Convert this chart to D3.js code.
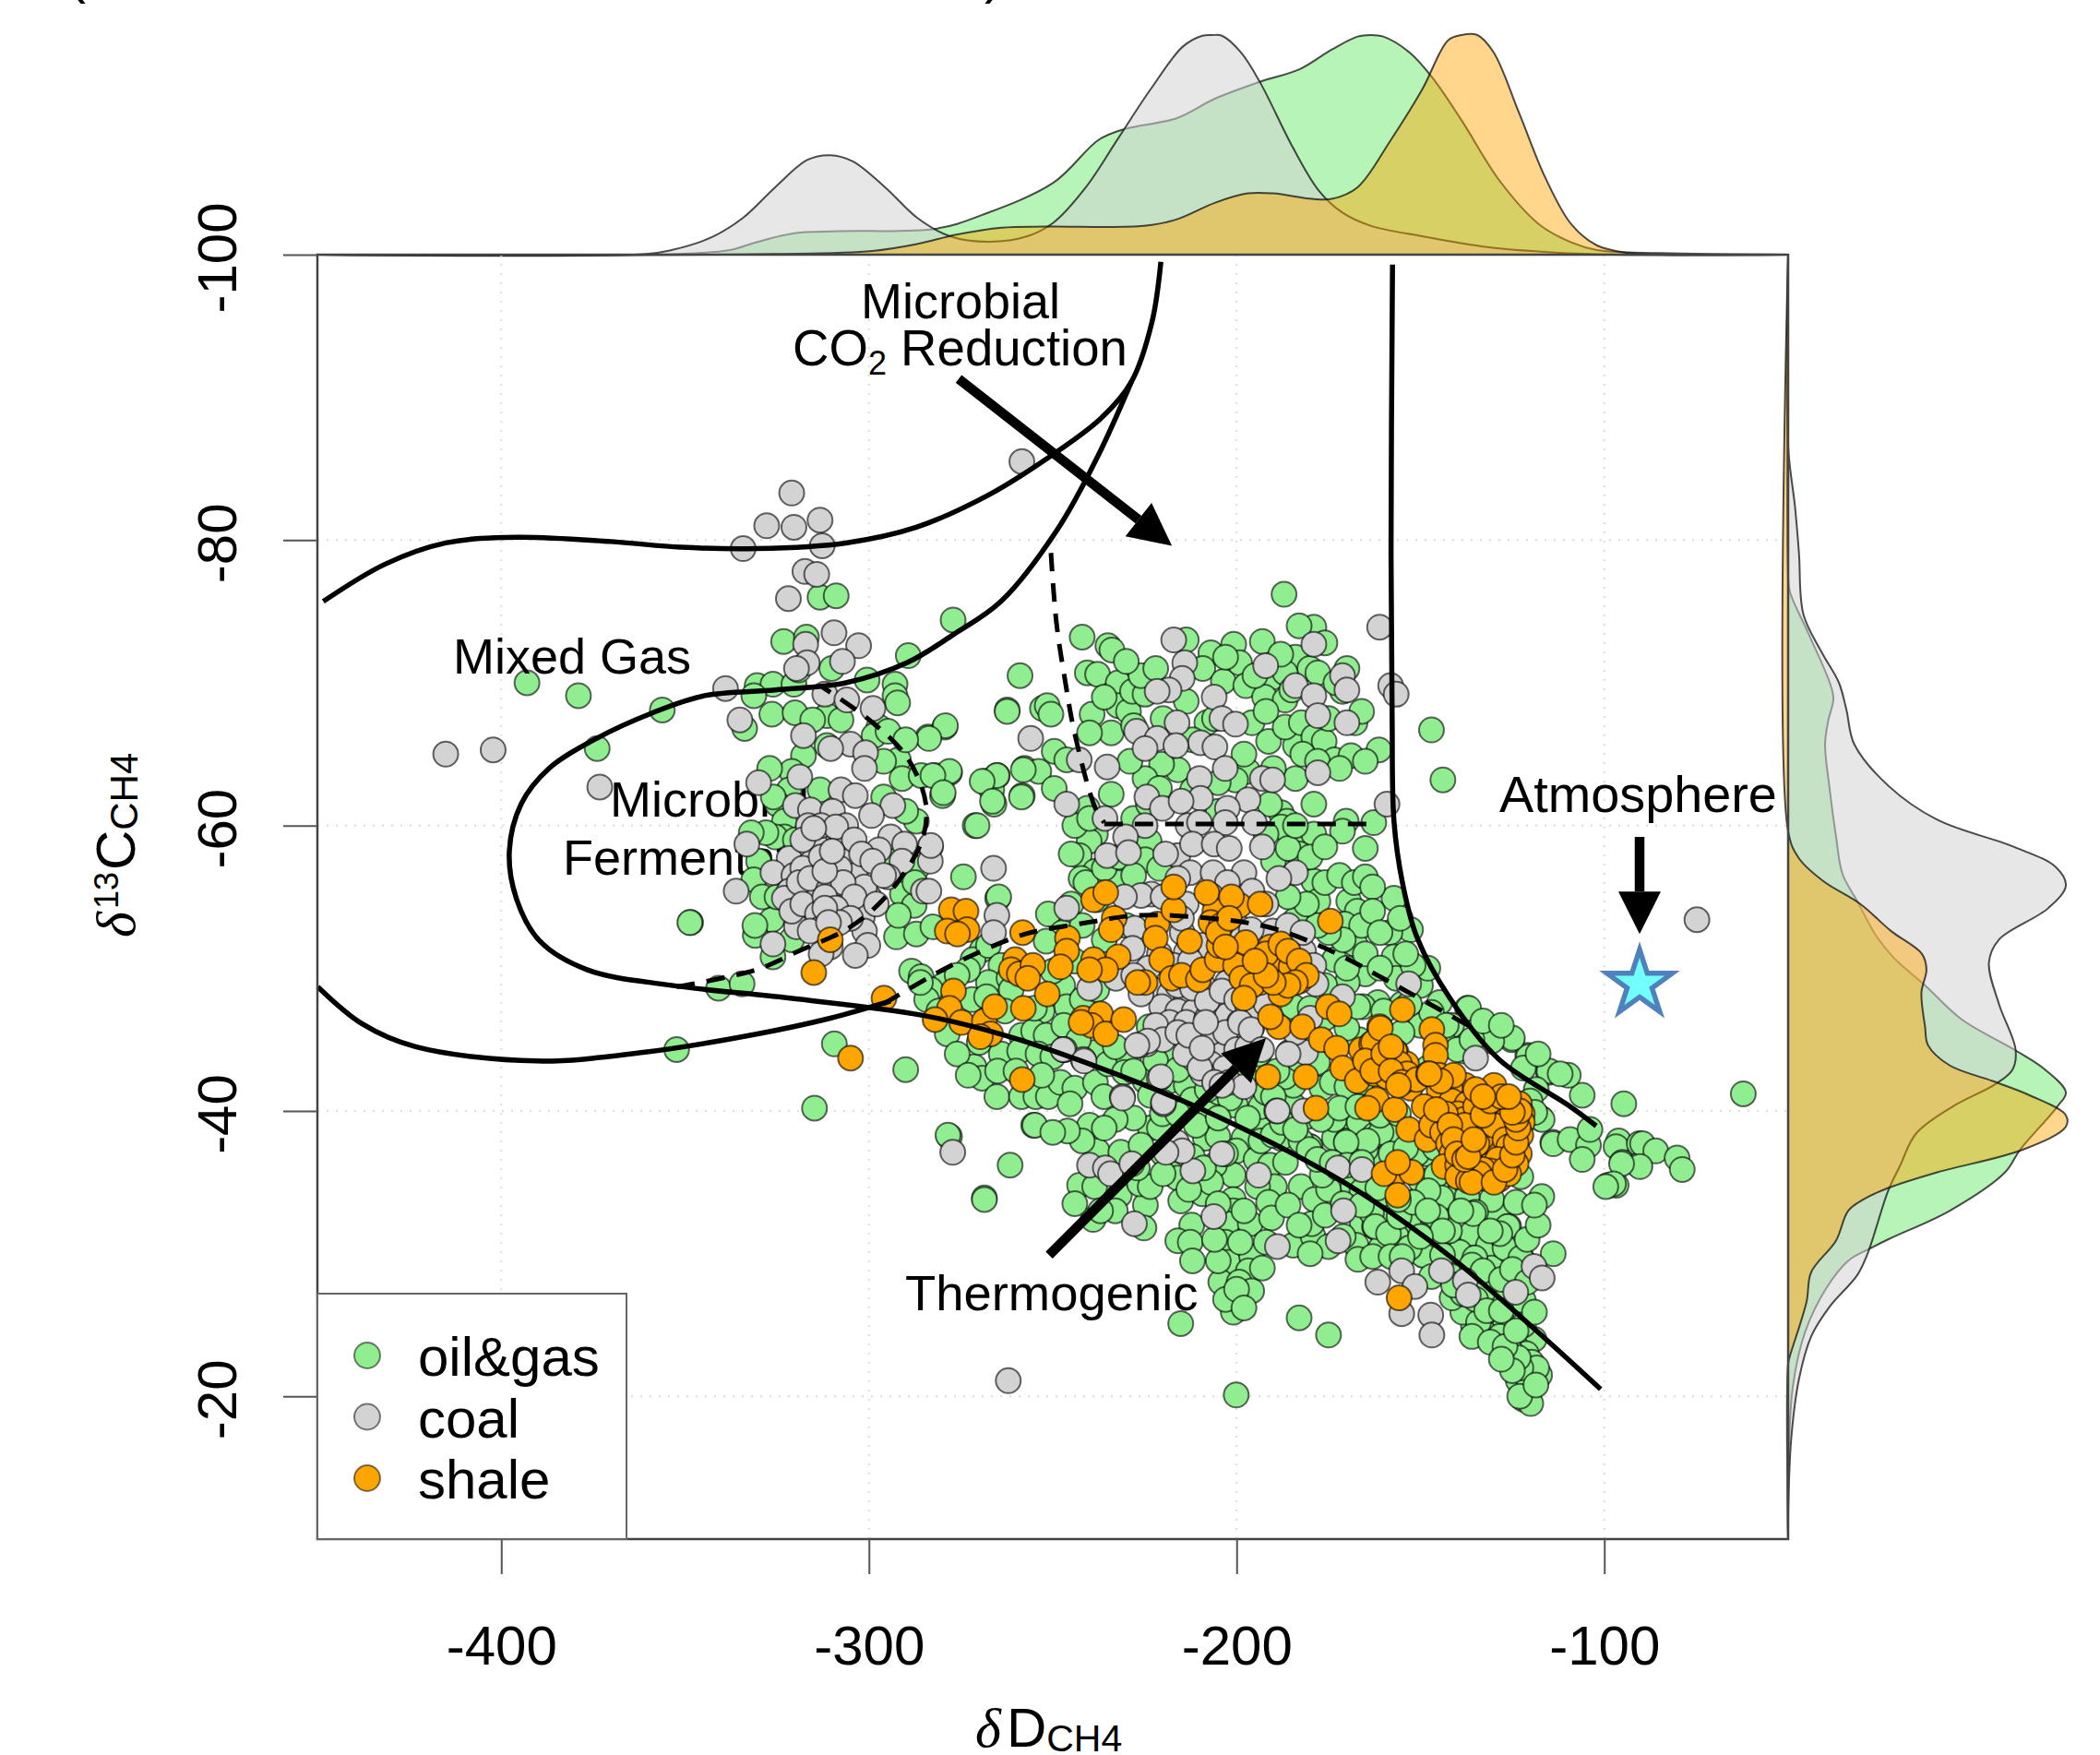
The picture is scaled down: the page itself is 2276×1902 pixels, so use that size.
<!DOCTYPE html>
<html>
<head>
<meta charset="utf-8">
<script src="https://cdn.jsdelivr.net/npm/d3@7"></script>
<style>
  html, body { margin: 0; padding: 0; background: #fff; }
  svg { display: block; }
  text { font-family: "Liberation Sans", Arial, sans-serif; fill: #000; }
</style>
</head>
<body>
<div id="chart"></div>
<script>
// Tick labels
const xTicks = [-400, -300, -200, -100];
const yTicks = [-100, -80, -60, -40, -20];

// Scatter values: [deltaD, delta13C]
const oilGas = [
  [-313.3,-76],[-308.9,-76.1],[-277.1,-74.4],[-323.2,-72.9],[-317,-73.2],[-289.3,-71.9],[-393,-70],[-379,-69.1],[-356.2,-68.1],[-373.9,-65.4],
  [-258.9,-70.5],[-330.4,-69.8],[-326.1,-69.9],[-331.3,-69.1],[-320.4,-69.9],[-319.1,-70.9],[-310.1,-71],[-300.5,-70.2],[-292.9,-69.9],[-292.9,-69.1],
  [-292.2,-68.6],[-326.4,-67.8],[-320.1,-67.9],[-311.4,-67.7],[-315.3,-67.4],[-307.6,-67.4],[-297.3,-66.9],[-333.8,-66.8],[-298.6,-66.3],[-294.8,-66.6],
  [-311.4,-65.6],[-317.8,-64.9],[-292,-64.6],[-291,-63.3],[-283.9,-66.2],[-279.4,-66.9],[-262.4,-68.1],[-285.8,-63.5],[-278.1,-63.7],[-282,-63.5],
  [-280,-62.1],[-268.5,-63.1],[-265.1,-63.5],[-257.7,-64],[-266.6,-62.5],[-266,-61.5],[-258.3,-62.1],[-252.8,-68.2],[-253.8,-63.8],[-321,-63.8],
  [-321.7,-62.5],[-313.3,-62.5],[-323,-61.2],[-287.1,-60.3],[-271.1,-60],[-324.9,-61.5],[-323,-60.3],[-323,-59.2],[-325.5,-59.2],[-330,-57.5],
  [-303.7,-58.2],[-331.3,-56.2],[-274.3,-56.4],[-348.5,-53.2],[-326.4,-53.4],[-330.9,-52.3],[-292.5,-52.2],[-287.1,-52.4],[-282.6,-52.9],[-290.9,-55.2],
  [-287.7,-54.4],[-265,-54.9],[-269.2,-51.3],[-271.7,-50.6],[-326.1,-50.8],[-340.9,-48.6],[-334.5,-48.9],[-288.4,-49.8],[-285.8,-49.4],[-279.4,-48.9],
  [-187.1,-76.2],[-242,-73.2],[-235,-72.6],[-233.9,-72.3],[-240.6,-70.7],[-237.8,-70.6],[-232.2,-70],[-262.4,-68],[-251.5,-68.4],[-250.5,-67.8],
  [-239.3,-67.8],[-232.2,-68.4],[-229.4,-68],[-228.3,-69.4],[-224.9,-69.2],[-234.1,-66.5],[-213.7,-73],[-207,-72.1],[-200.8,-72.7],[-193,-72.9],
  [-209.2,-71],[-203.6,-70.1],[-199.2,-71.4],[-197.5,-69.8],[-179,-73.9],[-184,-71.8],[-180.1,-71],[-177.9,-70.7],[-190.2,-70.4],[-186.8,-70.7],
  [-192.4,-69],[-186.8,-68.8],[-213.7,-68.7],[-208.1,-67.2],[-195.8,-67.2],[-191.3,-65.9],[-184,-65.6],[-186.8,-66.9],[-182.4,-67.2],[-179,-66.2],
  [-176.2,-65.9],[-173.4,-64.6],[-168.9,-64.9],[-167.8,-67.2],[-171.2,-69.4],[-161.3,-65.3],[-147,-66.7],[-143.9,-63.2],[-184,-63.3],[-179,-61.5],
  [-196.9,-63.8],[-200.3,-63.2],[-216,-63.9],[-220.4,-64.3],[-224.9,-63.3],[-249.6,-65.2],[-246.2,-64.6],[-249.6,-62.6],[-258,-63.9],[-258.5,-62],
  [-265.2,-63.5],[-269.2,-63.1],[-266.4,-61.7],[-279.2,-67],[-283.7,-66.1],[-278.1,-63.8],[-282.6,-63.5],[-279.8,-62.3],[-234.1,-62.2],[-240.6,-61.2],
  [-170.2,-60.3],[-171.2,-59.6],[-162.7,-60.2],[-165,-58.4],[-187.9,-60.9],[-186.3,-60.3],[-182.9,-59.4],[-179,-59.4],[-182.9,-58],[-187.9,-59.9],
  [-238.4,-59.4],[-240.1,-58.9],[-242.8,-57.9],[-223.8,-58.9],[-224.9,-57.6],[-238.4,-56.8],[-232.2,-56],[-242.3,-56.3],[-264.7,-55],[-251.2,-53.8],
  [-187.9,-56.8],[-179,-56.1],[-177.9,-54.7],[-169.5,-54.7],[-167.2,-54],[-170.6,-53.1],[-167.8,-51.7],[-173.4,-50.6],[-184,-53.4],[-157.2,-54.9],
  [-152.7,-52.7],[-158.3,-52.5],[-157.2,-50.8],[-165,-49.6],[-156.6,-49.3],[-169.9,-49],[-161.6,-47.6],[-144.8,-47.6],[-137.2,-47.2],[-142,-45.9],
  [-150,-48.8],[-165.6,-47.3],[-247.3,-52.5],[-251.8,-51.9],[-267.5,-51.6],[-264.1,-50.2],[-267.5,-49],[-273.1,-49.9],[-283.2,-48.5],[-284.3,-47.8],
  [-247.3,-48.8],[-246.2,-47.3],[-252.9,-47],[-261.9,-49.3],[-261.3,-48.5],[-258.5,-45.3],[-255.2,-45.6],[-251.8,-45.3],[-278.7,-45.4],[-271.4,-43.1],
  [-269.2,-42.3],[-265.2,-41],[-258.5,-41],[-254.6,-41],[-251.2,-41],[-247.9,-42],[-244,-41.6],[-238.4,-42],[-255.2,-39],[-240,-39],
  [-278.1,-38.2],[-261.6,-36.2],[-268.6,-33.9],[-238.4,-44.1],[-235,-43.3],[-229.4,-43.7],[-224.9,-42.1],[-218.2,-42.1],[-213.7,-41.8],[-236.1,-41],
  [-230.5,-42.7],[-223.8,-45.9],[-218.2,-43.9],[-195.8,-43],[-200.3,-40.4],[-193.6,-39.2],[-207,-40],[-198,-38.1],[-184.6,-40.4],[-188,-38.1],
  [-180.1,-37.5],[-173.4,-38.1],[-170,-37.8],[-164.4,-38.7],[-158.3,-38.7],[-162.2,-36.8],[-169,-39.5],[-176.8,-41.6],[-184.6,-41.8],[-186.8,-42.4],
  [-204.8,-41.3],[-166.7,-45],[-149.3,-46.5],[-130.8,-45.2],[-125.2,-45],[-120.8,-43.9],[-115.2,-42.7],[-117.4,-39.5],[-114,-37.8],[-184.6,-47.3],
  [-242.7,-34.8],[-238.6,-34.7],[-231.9,-34.1],[-224.8,-33.4],[-226.4,-34.9],[-223.5,-34.7],[-239,-32.4],[-225.2,-31.8],[-223.5,-38.8],[-221,-38.8],
  [-237.9,-37.2],[-231.5,-37.1],[-217.7,-35.6],[-216,-35.3],[-215.2,-33.7],[-209.3,-34.2],[-212.2,-32],[-216,-30.9],[-212.6,-30.8],[-208.5,-38.1],
  [-205.1,-38.2],[-200.1,-37.2],[-200.9,-35.5],[-206,-36.2],[-200.9,-33.8],[-200.9,-33],[-202.6,-32.1],[-196.3,-32.1],[-203,-30.8],[-202.2,-29.4],
  [-195.9,-29.8],[-196.8,-28.8],[-204.3,-28],[-199.3,-28],[-195.9,-27.4],[-200.9,-25.9],[-215.2,-25.1],[-183,-25.5],[-175,-24.3],[-200.1,-20.1],
  [-194.7,-36.6],[-190.9,-36.2],[-189.7,-34.7],[-194.3,-34.7],[-191.3,-33.6],[-190.5,-32.5],[-193.4,-37.9],[-190.1,-38.3],[-184.6,-30.6],[-179.2,-31.2],
  [-182.5,-34.7],[-178.8,-33.8],[-179.6,-32.1],[-175.9,-32.7],[-165.8,-32.1],[-162.5,-31.9],[-167.5,-30.6],[-180,-37.5],[-170,-37.9],[-173.4,-39.4],
  [-166.7,-39.2],[-162.5,-38.3],[-175,-34.5],[-168.3,-34.7],[-186.7,-36.4],[-182.5,-37.9],[-164.2,-34],[-160.8,-32.5],[-162.5,-36.6],[-176.7,-35.5],
  [-254.9,-39],[-245.3,-40.5],[-223.5,-41.1],[-220.2,-39.8],[-201.8,-40.9],[-193.4,-40.3],[-187.6,-39.2],
  [-142.9,-33.9],[-146.5,-32.6],[-149.9,-33.9],[-134.8,-32.7],[-129,-32.7],[-126,-31.9],[-130.6,-33.8],[-137.3,-34],[-141.9,-31.4],[-136.1,-31.4],
  [-162,-31.8],[-156.6,-31.1],[-149,-29.9],[-158.2,-32.9],[-154,-32.9],[-144.9,-31],[-131.5,-30.6],[-127.3,-31],[-122.7,-29.8],[-113.9,-30],
  [-130.6,-29],[-139.4,-30.1],[-135.2,-29.7],[-153.2,-32.3],[-160.8,-30.4],[-163.3,-32.9],[-162.4,-34.5],[-158.2,-38.3],[-164.9,-37.3],[-160.7,-38.5],
  [-164.5,-37.9],[-159.9,-34.2],[-149.9,-35.1],[-145.7,-34.7],[-148.2,-37],[-145.7,-35.5],
  [-126.3,-31.9],[-127,-30.4],[-135,-32.9],[-142.1,-31.6],[-149.3,-29.9],[-162.3,-31.9],[-156.5,-31.2],[-129.9,-25.7],[-127,-25],[-119.1,-24],
  [-132.8,-24.5],[-135.6,-25],[-138.5,-25.9],[-141.4,-26.9],[-128.4,-24.2],[-124.1,-23.5],[-121.2,-23],[-126.3,-22.6],[-119.8,-22.4],[-117.6,-21.5],
  [-123.4,-21.1],[-120.5,-21],[-121.9,-19.8],[-118.4,-22],[-122.7,-22],[-125.6,-23.2],[-123.4,-22.7],[-134.2,-25.2],[-129.9,-26.9],[-132.8,-27.4],
  [-122,-26.7],[-122.7,-29.7],[-128.4,-31.4],[-141.4,-28.4],[-138.5,-27.2],[-144.3,-33.9],[-135.6,-32.8],[-145.7,-32.6],[-158.7,-31.4],[-147.9,-34.4],
  [-170.2,-37.8],[-180.3,-37.3],[-165.9,-34.4],[-161.6,-34.6],[-155.8,-32.6],
  [-94.7,-40.5],[-113.9,-37.7],[-109.3,-38],[-104.3,-37.6],[-103.9,-38.7],[-106,-36.6],[-96.1,-37.9],[-96.8,-37.5],[-95.1,-36.4],[-90.5,-37.7],
  [-90.5,-36.2],[-98.9,-34.8],[-96.8,-34.8],[-117,-34],[-122.7,-35.4],[-106,-41.1],[-109.8,-42.5],[-115,-42.8],[-120.6,-43.8],[-125,-45.1],
  [-130.6,-44.9],[-136.9,-47.2],[-141.5,-46],[-138.2,-44.2],[-118.5,-41.5],[-120.2,-40.7],[-116.9,-39.4],[-118.9,-39.9],[-89.6,-37.7],[-86,-37.2],
  [-80.2,-36.7],[-78.8,-35.9],[-90.3,-36.1],[-95.3,-36.3],[-97.5,-34.9],[-99.6,-34.7],[-62.2,-41.2],
  [-309.4,-44.7],[-352.3,-44.3],[-314.8,-40.2],[-290,-42.9],[-348.7,-53.2],[-268.6,-33.8],[-278.5,-38.3],[-270.6,-60],
  [-286,-49],[-281,-47],[-276,-49.5],[-272,-47.8],[-268,-48],[-263,-47],[-270,-44.8],[-264,-44],[-259,-44.2],[-254,-44],
  [-250,-43.8],[-247,-46],[-242,-47.8],[-238,-48.5],[-255,-47.2],[-250,-49.8],[-244,-50.5],[-276,-44],[-273,-42.5],[-265,-42.8],
  [-260,-42.8],[-253,-42.5],[-247,-44.3],[-243,-45],[-233,-44.5],[-228,-42.8],[-222,-43.5],[-216,-42.9],[-212,-40.8],[-208,-41.5],
  [-216,-39.8],[-211,-39],[-205,-39.5],[-228,-39.5],[-233,-39.4],[-236,-38.8],[-242,-37.9],[-246,-38.6],[-250,-38.5],[-226,-37.6],
  [-220,-37],[-212,-36.8],[-207,-35],[-203,-37],[-197,-39.5],[-192,-41.3],[-189,-42.8],[-183,-43.6],[-178,-43.4],[-174,-42],
  [-170,-41.7],[-166,-42],[-161,-39.7],[-156,-39.8],[-151,-37],[-146,-37.4],[-198,-42.5],[-194,-44],[-190,-41],[-181,-39.6],
  [-177,-39.4],[-172,-40.2],[-167,-40.3],[-184,-38.7],[-178,-36.6],[-174,-36.4],[-170,-36.2],[-166,-36.4],[-158,-37],[-154,-37.4],
  [-152,-33.6],[-148,-33],[-156,-33.8],[-171,-33.5],[-166,-33.4],[-186,-33.4],[-183,-32],[-175,-30.5],[-171,-31.2],[-192,-30.8],
  [-198,-33],[-205,-33.5],[-209,-36],[-213,-34.5],[-220,-35.6],[-227,-36],[-233,-33],[-237,-33],[-244,-33.5],[-180,-30],
  [-167,-29.6],[-163,-29.8],[-158,-29.8],[-153,-30.4],[-147,-28.4],[-144,-29.9],[-141,-27.8],[-136,-29.2],[-133,-28.8],[-128,-28.2],
  [-125,-28.9],[-121,-31],[-118,-32],[-124,-33.6],[-119,-33.4],[-131,-31.6],[-139,-33],[-144,-31.6],[-150,-31.2],[-155,-29.8],
  [-135,-26.8],[-132,-26],[-136,-24.2],[-131,-23.8],[-127,-23.5],[-122,-25],[-119,-25.9],[-125,-21.8],[-120,-19.5],[-123,-20],
  [-118.6,-20.8],[-128,-22.6],[-124,-24.6],[-128,-26],[-121,-28],[-203,-26.8],[-200,-27.5],[-198,-26.2],[-205,-29.5],[-199,-30.8],
  [-193,-29],[-206,-31],[-212,-29.5],
  [-176,-56],[-172,-56.5],[-168,-56],[-165,-56.4],[-163,-55.7],[-166,-53],[-163,-54],[-161,-52.5],[-171,-52],[-175,-52.5],
  [-178,-53],[-181,-54.5],[-186,-55],[-184,-52],[-186,-50],[-170,-50],[-165,-51],[-161,-50],[-155,-47.5],[-150,-46],
  [-147,-46.9],[-144,-45],[-140,-44.3],[-155,-45.5],[-160,-47],[-148,-50],[-152,-50.2],[-153,-47.5],[-176,-48.8],[-180,-47.2],
  [-176,-46.5],[-170,-45.8],[-167,-47.3],[-148,-43],[-143,-46],[-136,-45],[-133,-46.3],[-128,-46],[-122,-43],[-118,-44],
  [-112,-42.6],[-155.5,-53.5],[-154,-51],
  [-241,-56],[-245,-58],[-238,-54.8],[-245,-54.5],[-242,-53],[-236,-57],[-232,-57.8],[-228,-56.5],[-244,-60],[-240,-60.5],
  [-236,-52],[-230,-53],[-221,-57],[-192,-59.4],[-190,-57.5],[-186,-58.4],[-184,-60],[-180,-57.8],[-176,-58.5],[-191,-61.5],
  [-228,-60.5],[-224,-61.5],[-212,-62.5],[-205,-63],
  [-226,-70.5],[-222,-71],[-228,-67],[-220,-67.5],[-212,-66],[-206,-67.5],[-203,-71.8],[-195,-70.5],[-192,-68],[-188,-72],
  [-185,-69.5],[-182,-65],[-178,-64.5],[-175,-67.5],[-173,-70],[-170,-71],[-176,-72.8],[-183,-74],[-166,-68],[-172,-64],
  [-165,-64.5],[-190,-64],[-198,-65],[-205,-61],[-240,-66.5],[-236,-69],[-230,-71.5],[-229,-64.5],[-221,-62.6],
  [-327,-64],[-326,-62],[-328,-59.5],[-320,-59],[-296,-64.5],[-290,-61],[-290,-66],[-296,-62],[-294,-58],[-287,-57],
  [-300,-55],[-329,-55],[-332,-59.5],[-325,-55],[-331,-53],[-321,-52],[-292,-53.7],[-287.5,-56]
];

const coal = [
  [-321,-83.3],[-327.8,-81],[-320.4,-80.9],[-313.3,-81.4],[-334.2,-79.4],[-312.7,-79.6],[-317.4,-77.8],[-314.2,-77.6],[-321.9,-75.9],[-309.5,-73.5],
  [-317.2,-72.7],[-302.8,-72.6],[-316.8,-71.4],[-307.2,-71.5],[-319.7,-71],[-339,-69.6],[-312,-69.2],[-306,-68.8],[-298.9,-68.2],[-335.1,-67.4],
  [-415.1,-65],[-402.2,-65.3],[-373.2,-62.7],[-317.8,-66.3],[-305,-65.7],[-310.4,-65.4],[-300.9,-65.1],[-301.2,-64],[-318.8,-63.4],[-330,-63],
  [-307.6,-62.5],[-320,-61.4],[-315.9,-61.1],[-303.7,-62.1],[-293.5,-61.4],[-309.9,-61],[-299.3,-60.7],[-316.5,-60],[-306.3,-60],[-294.1,-59.2],
  [-333.2,-58.7],[-310.1,-59.2],[-314.6,-58.7],[-307.6,-58.8],[-321.7,-57.7],[-297.3,-58.3],[-290.3,-58.7],[-283.3,-58.5],[-283.3,-57.5],[-291,-57.5],
  [-311.4,-57.9],[-315.3,-57.5],[-306.3,-57.5],[-326.1,-56.7],[-320.4,-56.5],[-312.7,-56.5],[-303.7,-56.5],[-294.8,-56.4],[-321.7,-55.4],[-317.8,-55.5],
  [-314,-55.9],[-309.5,-56],[-306.3,-55.4],[-301.2,-55.7],[-285.2,-55.4],[-336.1,-55.4],[-323,-54.9],[-316.5,-54.7],[-311.4,-54.7],[-307,-54.9],
  [-310.1,-53.9],[-316.3,-53.6],[-301.8,-53.6],[-301.2,-52.6],[-326.1,-51.7],[-300.3,-51.6],[-303.7,-50.9],[-319.7,-52.9],
  [-318,-59],[-313,-60],[-309,-59.9],[-304,-59],[-318,-57],[-313,-57.8],[-308,-57],[-302,-58],[-319,-56],[-316,-56.3],
  [-311,-55.5],[-307,-56],[-304,-55],[-321,-54],[-318,-54.5],[-314,-53.8],[-312,-55],[-309,-54.2],[-305,-53.5],[-313,-52.8],
  [-310,-52.9],[-308,-53.2],[-316,-52.6],[-312,-56.8],[-310,-58.2],[-315,-59.8],[-299,-57.5],[-296,-56.5],[-298,-54.5],[-312,-54.2],
  [-311,-53.2],[-310.5,-51.5],[-313,-51],
  [-217.1,-73],[-214.1,-71.4],[-214.8,-70.3],[-218.4,-69.5],[-221.6,-69.4],[-206.1,-69],[-204,-67.5],[-200.3,-67.1],[-192.1,-71.2],[-179,-72.7],
  [-184,-69.8],[-179,-69.1],[-177.9,-67.7],[-171.2,-70.5],[-170,-69.5],[-170,-67.2],[-161.1,-73.9],[-158.1,-69.8],[-156.6,-69.2],[-159.1,-61.5],
  [-177.9,-63.7],[-193,-63.3],[-190.2,-63.2],[-209.8,-65.8],[-205.9,-65.5],[-203.1,-64],[-216.2,-67.2],[-227.2,-66.6],[-221.6,-66.1],[-224.9,-65.4],
  [-216.5,-65.6],[-256,-66.1],[-242.8,-64.6],[-235.2,-64.1],[-246.2,-61.5],[-235.8,-60.5],[-210.1,-63.3],[-209.8,-61.9],[-224.4,-62],[-220.2,-61.2],
  [-215.1,-61.7],[-196.9,-61.8],[-202.5,-61.2],[-213.2,-60],[-210.1,-60.2],[-203.1,-60.2],[-195.2,-60.2],[-224.9,-60],[-230.2,-59.2],[-235.2,-57.9],
  [-229.4,-58.1],[-216,-57.9],[-219.3,-58],[-212,-58.7],[-206.1,-58.7],[-202,-58.4],[-193,-58.5],[-212.6,-56.7],[-206.4,-56.7],[-198,-56.7],
  [-184,-56.7],[-188.5,-56.3],[-223.2,-55.2],[-226,-55.1],[-246.2,-54.2],[-265.2,-53.7],[-266.1,-57],[-266.1,-52.5],[-227.7,-52.8],[-230.5,-55],
  [-190.2,-52.6],[-181.8,-51.2],[-179,-50.2],[-178.4,-48.9],[-171.2,-48],[-153.2,-48.9],[-135,-43.7],[-283.2,-58.6],[-283.7,-55.4],
  [-216,-56.3],[-202.5,-56],[-195.8,-55.4],[-207,-55.1],[-213.7,-54.5],[-214.8,-52.5],[-209.2,-51.6],[-213.7,-51.1],[-228.3,-51.4],
  [-222.7,-48.5],[-218.2,-48.2],[-213.7,-47.9],[-220.4,-47.3],[-216,-47],[-211.5,-47],[-218.2,-46.2],[-213.7,-46.2],[-208.1,-46.5],[-205.3,-47.9],
  [-202.5,-46.7],[-199.2,-46.2],[-195.8,-45.9],[-213.7,-45.2],[-209.8,-44.4],[-204.8,-44.4],[-199.2,-45],[-211.5,-43.6],[-207,-43.3],[-203.1,-43],
  [-209.2,-42.6],[-226,-48.2],[-232.8,-49.3],[-240,-48.6],[-217.1,-50.2],[-212.6,-50.5],[-209.2,-48.8],[-202.5,-49],[-185.7,-44.1],[-181.2,-44.1],
  [-189.1,-40],[-221,-42.3],[-231.1,-41],[-219.9,-40.5],[-224.4,-44.7],[-226.6,-44.6],[-246.8,-44.3],[-241.7,-43.6],
  [-221,-51],[-216,-48.8],[-212,-48.6],[-208,-47.7],[-204,-48.4],[-200,-47.8],[-197,-47.3],[-194,-47],[-222,-46],[-220,-45],
  [-216,-45.5],[-212,-44.8],[-207,-45.5],[-203,-45.5],[-200,-44.3],[-197,-44.5],[-214,-44],[-210,-43],[-206,-42],[-202,-42],
  [-198,-41.7],[-204,-41.8],[-224,-50],[-228,-49.5],[-220,-55],[-215,-53.5],[-200,-53],[-196,-52.7],[-192,-54.5],[-186,-53],
  [-182,-52.5],[-192,-47.5],[-184,-45.5],[-180,-46.5],
  [-161.6,-28],[-155.1,-28.8],[-151.5,-27.7],[-155.1,-25.8],[-147.2,-25.7],[-146.9,-24.3],[-144.3,-28.8],[-137.8,-28.1],[-137,-27.1],[-124.1,-27.3],
  [-119.1,-29.1],[-116.9,-28.3],[-170.9,-33],[-188.9,-30.5],[-172.4,-30.9],[-206.2,-32.6],[-227.8,-32.1],[-211.9,-35.8],[-194,-35.5],[-204,-37],
  [-216.3,-37.8],[-214.8,-37.2],[-219.2,-37.1],[-240,-36.2],[-235.7,-36],[-234.3,-35.6],[-228.5,-36.3],[-277.2,-37.1],[-262.1,-21.1],[-172.4,-36],
  [-165.9,-35.9],[-188.9,-40],[-181.7,-40],[-231,-40.9],[-220.6,-42.4],[-219.9,-40.6],[-247.2,-44.3],[-241.5,-43.5],[-224.2,-44.9],[-227.1,-44.6],
  [-213,-45.3],[-209.4,-44.4],[-186,-44],[-199,-46.2],[-208.4,-46.2],[-196.1,-45.7],[-193.2,-44.3],
  [-74.8,-53.4],[-258.4,-85.5]
];

const shale = [
  [-310.5,-52],[-315,-49.7],[-305,-43.7],[-295.9,-47.9],
  [-277.6,-54.1],[-273.6,-54],[-278.7,-52.6],[-273.3,-52.7],[-275.9,-52.4],[-258.2,-52.5],[-277,-48.4],[-278.1,-47.2],[-282,-46.4],[-274.8,-46.2],
  [-268.6,-46.3],[-265.8,-47.3],[-266.9,-45.4],[-269.7,-45.2],[-258,-47.2],[-260.2,-50.6],[-261.3,-49.9],[-259.1,-49.6],[-255.4,-50.2],[-256.8,-49.3],
  [-251.5,-48.2],[-246,-52.1],[-246.2,-51.2],[-247.9,-50.1],[-238.9,-54.8],[-235.6,-55.3],[-233.3,-53.5],[-234.1,-52.7],[-238.9,-50.6],[-232.2,-50.8],
  [-235.6,-49.9],[-240,-49.9],[-224.9,-49],[-226.9,-49],[-241.7,-46.5],[-237,-46.8],[-239.5,-46],[-235.6,-45.4],[-230.7,-46.4],[-242.3,-46.2],
  [-221.6,-53.1],[-222.1,-52.1],[-217.1,-54.1],[-217.1,-55.7],[-220.4,-50.6],[-217.6,-49.3],[-215,-49.5],[-212.8,-51.9],[-210.4,-49.2],[-209.2,-49.9],
  [-205.3,-50.6],[-205.9,-54],[-207,-53.2],[-204.2,-53],[-208.1,-55.3],[-199.2,-54.4],[-201.4,-55],[-193.6,-54.5],[-204.8,-51.6],[-200.3,-50.2],
  [-198.6,-49.3],[-193.6,-49],[-190.2,-50.2],[-188,-50.5],[-185.2,-50.1],[-182.9,-49.1],[-195.8,-48.8],[-198,-47.9],[-188,-48.2],[-197.5,-51.8],
  [-190.8,-51.5],[-188.5,-45.9],[-190.8,-46.6],[-182.1,-45.9],[-177,-45],[-172.8,-44.4],[-175.1,-47.3],[-172.1,-46.8],[-171.2,-43],[-167.2,-42.1],
  [-191.5,-42.4],[-181.2,-42.4],[-178.4,-40.2],[-174.5,-53.3],[-258.3,-42.2],
  [-192,-51],[-188,-51.7],[-186,-51.2],[-183,-50.5],[-181,-49.5],[-184,-49],[-186,-48.8],[-190,-49],[-192,-49.5],[-195,-50.5],
  [-205,-52.5],[-202,-53.5],[-203,-51.5],
  [-166.1,-44.3],[-163.3,-44.7],[-161.1,-45.9],[-156.6,-44.1],[-162.2,-43.6],[-157.7,-43],[-153.8,-43.3],[-162.8,-44.8],[-160.9,-45.8],[-157,-44.2],
  [-159.5,-43.5],[-155.7,-43.3],[-163.3,-43.3],[-153.6,-42.6],[-152.8,-41.6],[-162.4,-42.6],[-159.1,-42.4],[-154.9,-47.1],[-146.9,-45.7],[-145.9,-44.6],
  [-145.9,-43.9],[-162,-40.8],[-164.4,-40.2],[-157,-40.1],[-153.2,-38.7],[-148.2,-38],
  [-165,-43.5],[-163,-42.8],[-160,-44],[-158,-44.5],[-158,-42.8],[-155,-42],[-151,-42.2],[-156,-41.8],
  [-156.2,-35.7],[-159.9,-35.6],[-152.4,-35.7],[-156.2,-36.4],[-156.2,-34.1],[-155.8,-26.9],
  [-147.8,-42.6],[-143.6,-42.2],[-137.8,-41.8],[-130,-41.8],[-141.9,-41.6],[-144.9,-41.4],[-134,-41.1],[-125.6,-40.5],[-123.1,-40.5],[-122.3,-39.8],
  [-149,-40.3],[-147,-39],[-141.5,-40.7],[-137.3,-40.5],[-129.8,-40.7],[-139.9,-39.8],[-135.7,-39.6],[-131.5,-39.8],[-127.3,-39.4],[-122.3,-39.2],
  [-122.7,-38.3],[-144,-38.5],[-140.7,-38.8],[-137.3,-38.5],[-133.2,-38.8],[-129,-38.5],[-124.8,-38.8],[-142.4,-37.7],[-139,-37.7],[-135.7,-37.9],
  [-132.3,-37.9],[-128.2,-37.7],[-124,-37.5],[-141.5,-37],[-137.3,-37],[-134,-37],[-129.8,-37],[-125.6,-36.8],[-123.1,-37],[-143.6,-36.1],
  [-139.9,-36.2],[-136.5,-36.2],[-132.3,-36.4],[-128.2,-36],[-124,-36.3],[-139.9,-35.4],[-135.7,-35.5],[-132.7,-35.3],[-128.6,-35.2],[-126,-35.6],
  [-134,-38.3],[-131.9,-38.3],[-134.8,-37.5],[-131.5,-37.5],[-136.5,-39.2],[-133.2,-39.2],[-129.8,-39.4],[-138.2,-39.4],[-143.2,-39.8],[-145.7,-40.1],
  [-135.7,-38.8],[-130.6,-38.1],[-134,-37.7],[-133.2,-37.3],[-134.8,-36.8],[-131.9,-37],[-138.2,-37.9],[-139.9,-38.5],
  [-134.5,-38],[-133,-37.5],[-132.5,-38.7],[-135,-38.4],[-133.8,-37.2],[-131,-38.9],[-136,-37.5],[-132,-36.8],[-130,-37.8],[-134.2,-39],
  [-135.2,-36.5],[-131,-36.2],[-133.4,-38.1],[-134.6,-37.7],
  [-130,-39],[-127,-38],[-126,-37.5],[-129,-36.6],[-131,-35.8],[-133,-35.9],[-134,-35.6],[-137,-35.1],[-136,-35],[-130,-35],
  [-127,-35.9],[-125,-36.9],[-124,-37.8],[-123.4,-38.8],[-124,-39.4],[-123,-40],[-125,-39.9],[-132,-40.4],[-135,-40.3],[-138,-39],
  [-142,-39],[-141,-38],[-140,-37],[-138,-36.6],[-137,-36.8],[-135.5,-38],[-133,-39.7],[-131,-40.7],[-135,-41.5],[-145,-42.5],
  [-141,-42.5],[-128,-41],[-126,-41],[-144.5,-42.1],[-133,-41],[-147.6,-42.6]
];

// Boundary lines
const upperMixed = [[-448.4,-75.7],[-431.7,-78.3],[-415.1,-79.8],[-395.9,-80.2],[-370.3,-79.9],[-351.1,-79.5],[-330.6,-79.4],[-306.3,-79.8],[-287.1,-80.9],[-267.9,-83.1],[-252.8,-85.5],[-237,-88.5],[-228.6,-91.1],[-223,-95.3],[-220.6,-99.5]];
const fermentation = [[-228.6,-91.1],[-237.7,-85.9],[-248.6,-80.8],[-264.1,-75.7],[-276.9,-73.4],[-289.7,-71.4],[-306.3,-70],[-325.5,-69.5],[-344.7,-69.1],[-358.8,-67.9],[-374.1,-66.1],[-387,-64],[-394.6,-61.5],[-397.8,-58.2],[-395.9,-54.9],[-389.5,-51.9],[-376.7,-49.9],[-353.7,-48.8],[-321.4,-47.9],[-285.4,-46.7],[-263,-45.3],[-242.2,-43.5],[-209,-40.06],[-170.2,-34.9],[-141.4,-29.7],[-101,-20.5]];
const lowerMixed = [[-449.9,-48.7],[-437.8,-46.1],[-423.3,-44.5],[-390.5,-43.5],[-361.4,-44.1],[-332.3,-45.3],[-310.5,-46.5],[-294.1,-47.7]];
const rightBound = [[-157.6,-99.3],[-158,-79],[-157.7,-67.5],[-157.2,-60.3],[-154.9,-56],[-151,-52.2],[-142,-47.9],[-128.6,-43.6],[-109.8,-40.4],[-102.2,-38.95]];
const dashFerment = [[-352.3,-48.7],[-330.6,-49.9],[-319.1,-51.2],[-305,-52.9],[-294.8,-55.2],[-285.8,-58.8],[-284.5,-61.5],[-289.7,-64.8],[-299.9,-67.4],[-312.7,-69.7]];
const dashThermo = [[-296,-47.5],[-282,-49.6],[-272,-50.9],[-257.4,-52.4],[-240.6,-53.2],[-227.2,-53.7],[-207,-53.5],[-190.2,-52.8],[-173.4,-51.1],[-158.8,-49.1],[-136.4,-45.9]];
const dashCO2 = [[-250.5,-79.1],[-249,-74.2],[-246.8,-70.4],[-244,-66.4],[-238.4,-61.2],[-236,-60.2]];
const dashFlat = [[-236,-60.1],[-162.2,-60.1]];

// Arrows [from, to]
const arrows = [
  [[-275.6,-91.3],[-217.6,-79.6]],
  [[-251,-29.9],[-192,-45.1]],
  [[-90.4,-59.2],[-90.4,-52.4]]
];
const atmosphere = [-90.4, -48.9];

// Marginal densities, top panel: [deltaD, relative density]
const topCoal = [[-450,0],[-360.7,.003],[-353.7,.021],[-343.1,.077],[-334.3,.167],[-325.5,.307],[-316.7,.432],[-310.5,.453],[-304.4,.425],[-295.6,.307],[-286.8,.167],[-278,.084],[-267.4,.059],[-256.9,.084],[-249.8,.146],[-241,.307],[-232.2,.53],[-223.4,.753],[-214.6,.948],[-209.3,.997],[-206.7,1],[-204,.997],[-198.8,.921],[-193.5,.781],[-184.7,.488],[-177.7,.293],[-171.5,.195],[-163.6,.132],[-149.5,.084],[-131.9,.035],[-114.3,.011],[-96.7,0],[-50,0]];
const topOil = [[-450,0],[-351.9,.003],[-337.8,.021],[-330.8,.056],[-320.2,.098],[-307.9,.107],[-281.5,.119],[-269.2,.181],[-249.8,.328],[-237.5,.523],[-230.5,.572],[-216.4,.621],[-205.8,.711],[-193.5,.788],[-182.9,.844],[-174.1,.934],[-167.1,.993],[-163.6,1],[-160.1,.993],[-153,.921],[-146.9,.809],[-138.9,.614],[-128.4,.335],[-117.8,.139],[-109,.056],[-102,.021],[-84.7,.007],[-50,0]];
const topShale = [[-450,0],[-325.5,.003],[-299.1,.017],[-286.8,.049],[-276.2,.091],[-263.9,.123],[-251.6,.128],[-225.2,.131],[-216.4,.16],[-205.8,.237],[-197,.279],[-190,.279],[-179.4,.254],[-174.1,.254],[-167.1,.307],[-158.3,.516],[-149.5,.753],[-142.5,.976],[-138.9,1],[-134.5,1],[-130.1,.921],[-123.1,.642],[-116,.349],[-109,.139],[-102,.042],[-93.2,.007],[-84.7,0],[-50,0]];

// Marginal densities, right panel: [delta13C, relative density]
const rightCoal = [[-100,0],[-86.6,0],[-82.3,.025],[-79.1,.039],[-74.8,.055],[-72.1,.122],[-70,.183],[-68.1,.21],[-65.7,.238],[-62.8,.36],[-60.4,.537],[-58.5,.814],[-57.1,.963],[-55.8,1],[-54.2,.936],[-52,.759],[-50.4,.723],[-47.5,.759],[-44.3,.819],[-42.9,.808],[-41.9,.748],[-40.3,.592],[-38.4,.46],[-36.2,.404],[-34.4,.36],[-30.1,.288],[-28.5,.249],[-26.3,.15],[-24.2,.083],[-21.2,.039],[-17,.011],[-11.6,0],[-10,0]];
const rightOil = [[-100,0],[-77.5,0],[-76.4,.006],[-73.5,.072],[-70,.15],[-68.9,.163],[-67.3,.144],[-65.7,.133],[-62.5,.15],[-59.3,.172],[-56.6,.196],[-54.7,.249],[-52.3,.316],[-50.7,.382],[-48.8,.493],[-46.4,.626],[-44.3,.814],[-42.9,.925],[-41.3,1],[-40.3,.969],[-37.3,.836],[-35.7,.781],[-33,.581],[-31.1,.371],[-30.3,.288],[-29.5,.216],[-27.6,.138],[-24.5,.061],[-20.7,.017],[-14.3,0],[-10,0]];
const rightShale = [[-100,0],[-59.6,0],[-57.7,.039],[-56.1,.127],[-54.5,.26],[-52.6,.371],[-51,.482],[-49.9,.498],[-48.3,.48],[-45.9,.493],[-44.6,.504],[-43.2,.581],[-42.1,.736],[-41.1,.869],[-39.7,1],[-38.9,1],[-37.3,.847],[-35.7,.537],[-34.6,.36],[-33.8,.271],[-33,.216],[-30.9,.172],[-28.7,.083],[-26.6,.066],[-22.8,.006],[-22.3,0],[-10,0]];

const legendNames = ["oil&gas", "coal", "shale"];
const legendColors = ["#90EE90", "#D3D3D3", "#FFA500"];

// Set dimensions
const width = 2276;
const height = 1902;
const plot = {left:344, right:1938, top:276, bottom:1668};

const svg = d3.select("#chart")
  .append("svg")
  .attr("width", width)
  .attr("height", height)
  .attr("viewBox", [0, 0, width, height]);

// Scales
const xScale = d3.scaleLinear().domain([-450,-50]).range([plot.left, plot.right]);
const yScale = d3.scaleLinear().domain([-100,-10]).range([plot.top, plot.bottom]);
const topScale = d3.scaleLinear().domain([0,1]).range([plot.top, 38]);
const rightScale = d3.scaleLinear().domain([0,1]).range([plot.right, 2239]);

/*
  Marginal densities
*/
const topArea = d3.area()
  .x(d => xScale(d[0]))
  .y0(plot.top)
  .y1(d => topScale(d[1]))
  .curve(d3.curveCatmullRom);

const rightArea = d3.area()
  .y(d => yScale(d[0]))
  .x0(plot.right)
  .x1(d => rightScale(d[1]))
  .curve(d3.curveCatmullRom);

const densityStyle = [
  {top: topOil, right: rightOil, fill: "#90EE90", op: 0.65},
  {top: topCoal, right: rightCoal, fill: "#D3D3D3", op: 0.55},
  {top: topShale, right: rightShale, fill: "#FFA500", op: 0.45}
];

densityStyle.forEach(s => {
  svg.append("path").attr("d", topArea(s.top))
    .attr("fill", s.fill).attr("fill-opacity", s.op)
    .attr("stroke", "#111").attr("stroke-opacity", 0.75).attr("stroke-width", 2);
  svg.append("path").attr("d", rightArea(s.right))
    .attr("fill", s.fill).attr("fill-opacity", s.op)
    .attr("stroke", "#111").attr("stroke-opacity", 0.75).attr("stroke-width", 2);
});

/*
  Grid + axes
*/
svg.append("g").selectAll("line").data(xTicks).enter().append("line")
  .attr("x1", d => xScale(d)).attr("x2", d => xScale(d))
  .attr("y1", plot.top).attr("y2", plot.bottom)
  .attr("stroke", "#dcdcdc").attr("stroke-width", 2).attr("stroke-dasharray", "2 8");
svg.append("g").selectAll("line").data(yTicks).enter().append("line")
  .attr("y1", d => yScale(d)).attr("y2", d => yScale(d))
  .attr("x1", plot.left).attr("x2", plot.right)
  .attr("stroke", "#dcdcdc").attr("stroke-width", 2).attr("stroke-dasharray", "2 8");

// Labels that sit under the points
const under = svg.append("g").style("font-size", "54px").attr("text-anchor", "middle");
under.append("text").attr("x", 769).attr("y", 885).text("Microbial");
under.append("text").attr("x", 769).attr("y", 948).text("Fermentation");

/*
  Points
*/
function drawPoints(data, color) {
  svg.append("g").selectAll("circle")
    .data(data)
    .enter()
    .append("circle")
      .attr("cx", d => xScale(d[0]))
      .attr("cy", d => yScale(d[1]))
      .attr("r", 13.5)
      .attr("fill", color)
      .attr("stroke", "#000")
      .attr("stroke-opacity", 0.6)
      .attr("stroke-width", 2);
}
drawPoints(oilGas, legendColors[0]);
drawPoints(coal, legendColors[1]);
drawPoints(shale, legendColors[2]);

/*
  Boundary lines
*/
const line = d3.line().x(d => xScale(d[0])).y(d => yScale(d[1])).curve(d3.curveCatmullRom);
[upperMixed, fermentation, lowerMixed, rightBound].forEach(l => {
  svg.append("path").attr("d", line(l)).attr("fill", "none")
    .attr("stroke", "#000").attr("stroke-width", 5.5);
});
[dashFerment, dashThermo, dashCO2, dashFlat].forEach(l => {
  svg.append("path").attr("d", line(l)).attr("fill", "none")
    .attr("stroke", "#000").attr("stroke-width", 5).attr("stroke-dasharray", "20 13");
});

// Arrows
arrows.forEach(a => {
  const x1 = xScale(a[0][0]), y1 = yScale(a[0][1]);
  const x2 = xScale(a[1][0]), y2 = yScale(a[1][1]);
  const ang = Math.atan2(y2 - y1, x2 - x1);
  const headLen = 46, headW = 23;
  const bx = x2 - headLen * Math.cos(ang), by = y2 - headLen * Math.sin(ang);
  svg.append("line").attr("x1", x1).attr("y1", y1).attr("x2", bx).attr("y2", by)
    .attr("stroke", "#000").attr("stroke-width", 10.5);
  svg.append("polygon")
    .attr("points", [
      [x2, y2],
      [bx - headW * Math.sin(ang), by + headW * Math.cos(ang)],
      [bx + headW * Math.sin(ang), by - headW * Math.cos(ang)]
    ].join(" "))
    .attr("fill", "#000");
});

// Atmosphere star
svg.append("path")
  .attr("d", d3.symbol().type(d3.symbolStar).size(1550)())
  .attr("transform", `translate(${xScale(atmosphere[0])},${yScale(atmosphere[1])})`)
  .attr("fill", "#74FFFF")
  .attr("stroke", "#4F81BD")
  .attr("stroke-width", 5.5)
  .attr("stroke-linejoin", "miter");

// Text labels
const notes = svg.append("g").style("font-size", "54px");
notes.append("text").attr("x", 1041).attr("y", 345).attr("text-anchor", "middle").text("Microbial");
const co2 = notes.append("text").attr("x", 859).attr("y", 396).style("font-size", "54.6px");
co2.append("tspan").text("CO");
co2.append("tspan").text("2").attr("dy", 10).style("font-size", "36px");
co2.append("tspan").text(" Reduction").attr("dy", -10);
notes.append("text").attr("x", 491).attr("y", 730).text("Mixed Gas");
notes.append("text").attr("x", 981).attr("y", 1420).style("font-size", "54.4px").text("Thermogenic");
notes.append("text").attr("x", 1625).attr("y", 880).style("font-size", "55.8px").text("Atmosphere");

/*
  Box + axes
*/
svg.append("rect")
  .attr("x", plot.left).attr("y", plot.top)
  .attr("width", plot.right - plot.left).attr("height", plot.bottom - plot.top)
  .attr("fill", "none").attr("stroke", "#444").attr("stroke-width", 2.5);

const xAxis = svg.append("g")
  .attr("transform", `translate(0,${plot.bottom})`)
  .call(d3.axisBottom(xScale).tickValues(xTicks).tickSize(38).tickPadding(55).tickFormat(d => String(d)));
xAxis.select(".domain").remove();
xAxis.selectAll("line").attr("stroke", "#555").attr("stroke-width", 2);
xAxis.selectAll("text").style("font-size", "60px").attr("fill", "#000");

const yAxis = svg.append("g")
  .attr("transform", `translate(${plot.left},0)`)
  .call(d3.axisLeft(yScale).tickValues(yTicks).tickSize(37).tickFormat(d => String(d)));
yAxis.select(".domain").remove();
yAxis.selectAll("line").attr("stroke", "#555").attr("stroke-width", 2);
yAxis.selectAll("text")
  .style("font-size", "60px")
  .attr("fill", "#000")
  .attr("text-anchor", "middle")
  .attr("dy", 0)
  .attr("x", 0)
  .attr("y", 0)
  .attr("transform", "translate(-88,3) rotate(-90)");

// Axis titles
const xTitle = svg.append("text").attr("x", 1057).attr("y", 1893).style("font-size", "60px");
xTitle.append("tspan").text("δ").style("font-family", "'Liberation Serif', serif").style("font-style", "italic");
xTitle.append("tspan").text("D").attr("dx", 6);
xTitle.append("tspan").text("CH4").attr("dy", 5).style("font-size", "41px");

const yTitle = svg.append("text")
  .attr("transform", "translate(146,1016) rotate(-90)")
  .style("font-size", "60px");
yTitle.append("tspan").text("δ").style("font-family", "'Liberation Serif', serif").style("font-style", "italic");
yTitle.append("tspan").text("13").attr("dy", -18).attr("dx", 3).style("font-size", "36px");
yTitle.append("tspan").text("C").attr("dy", 18).attr("dx", 2);
yTitle.append("tspan").text("CH4").attr("dy", 3).style("font-size", "42px");

/*
  Legend
*/
svg.append("rect")
  .attr("x", plot.left).attr("y", 1402)
  .attr("width", 335).attr("height", plot.bottom - 1402)
  .attr("fill", "#fff").attr("stroke", "#666").attr("stroke-width", 2);

const legendRow = d3.scalePoint().domain(legendNames).range([1469, 1602]);
svg.append("g").selectAll("circle").data(legendNames).enter().append("circle")
  .attr("cx", 398).attr("cy", d => legendRow(d)).attr("r", 14)
  .attr("fill", (d,i) => legendColors[i])
  .attr("stroke", "#000").attr("stroke-opacity", 0.5).attr("stroke-width", 2);
svg.append("g").selectAll("text").data(legendNames).enter().append("text")
  .attr("x", 453).attr("y", d => legendRow(d) + 22)
  .style("font-size", "60px")
  .text(d => d);

// Bits of the cropped line above the chart
svg.append("text").attr("x", 73).attr("y", -8).style("font-size", "60px").text("(");
svg.append("text").attr("x", 1067).attr("y", -8).style("font-size", "60px").text(")");
</script>
</body>
</html>
